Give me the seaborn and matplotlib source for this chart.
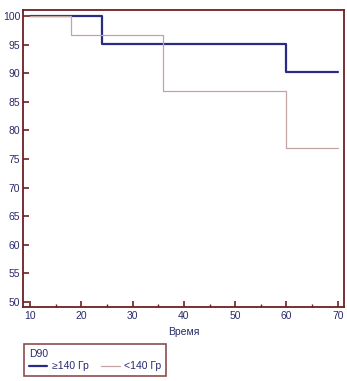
import numpy as np
import pandas as pd
import matplotlib
matplotlib.use("Agg")
import matplotlib.pyplot as plt
import seaborn as sns
from matplotlib.ticker import MultipleLocator

# step survival curves
time_high = [10, 24, 60, 70]
surv_high = [100, 95.2, 90.3, 90.3]
time_low = [10, 18, 36, 60, 70]
surv_low = [100, 96.7, 86.9, 77.0, 77.0]
groups = ["≥140 Гр", "<140 Гр"]

df = pd.concat([
    pd.DataFrame({"Время": time_high, "surv": surv_high, "group": groups[0]}),
    pd.DataFrame({"Время": time_low, "surv": surv_low, "group": groups[1]}),
])

sns.set_style("white")
plt.rcParams["font.family"] = ["Liberation Sans", "DejaVu Sans"]

spine_col = "#6e1f22"
text_col = "#2a2a6a"
palette = {groups[0]: "#2b2b86", groups[1]: "#c2a4a4"}

fig = plt.figure(figsize=(3.47, 3.81), dpi=100)
ax = fig.add_axes([0.066, 0.194, 0.925, 0.78])

for g, lw in zip(groups, [1.6, 0.9]):
    sub = df[df["group"] == g]
    sns.lineplot(data=sub, x="Время", y="surv", ax=ax, color=palette[g],
                 linewidth=lw, drawstyle="steps-post", label=g, legend=False,
                 estimator=None, sort=False)

ax.set_xlim(8.6, 71.2)
ax.set_ylim(49.1, 101.1)
ax.xaxis.set_major_locator(MultipleLocator(10))
ax.xaxis.set_minor_locator(MultipleLocator(5))
ax.yaxis.set_major_locator(MultipleLocator(5))
ax.tick_params(axis="both", which="major", direction="in", length=4, width=1.2,
               color=spine_col, labelsize=7.5, labelcolor=text_col, pad=3)
ax.tick_params(axis="x", which="minor", direction="in", length=2, width=1,
               color=spine_col, bottom=True)
ax.tick_params(axis="x", which="major", bottom=True)
ax.tick_params(axis="y", which="major", left=True, pad=2)
ax.set_xlabel("Время", fontsize=7.5, color=text_col, labelpad=4)
ax.set_ylabel("")
for s in ax.spines.values():
    s.set_color(spine_col)
    s.set_linewidth(1.3)

handles, labels = ax.get_legend_handles_labels()
leg = fig.legend(handles, labels, title="D90", ncol=2, loc="lower left",
                 bbox_to_anchor=(0.063, 0.008), fontsize=7.5, title_fontsize=7.5,
                 frameon=True, fancybox=False, handlelength=1.8,
                 columnspacing=1.2, borderpad=0.45, labelspacing=0.2,
                 handletextpad=0.4, borderaxespad=0.2)
leg._legend_box.align = "left"
leg.get_frame().set_edgecolor(spine_col)
leg.get_frame().set_linewidth(1.2)
leg.get_title().set_color(text_col)
for t in leg.get_texts():
    t.set_color(text_col)

fig.savefig("out.png", dpi=100)
